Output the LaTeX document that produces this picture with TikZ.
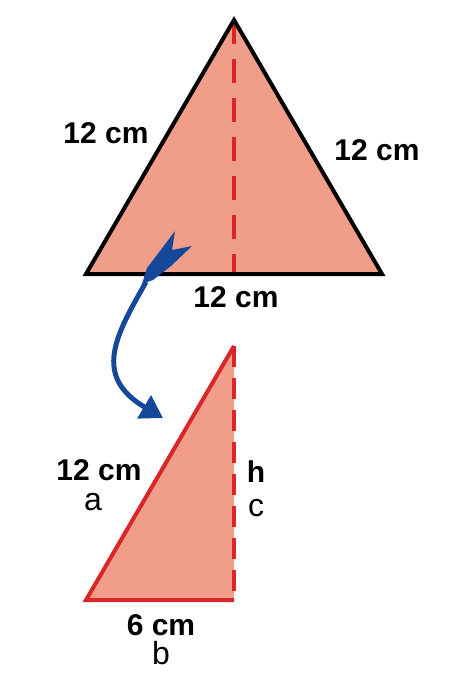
\documentclass[tikz,border=0pt]{standalone}
\usepackage{fontspec}
\setmainfont{Liberation Sans}
\usetikzlibrary{arrows.meta}
\definecolor{salmon}{RGB}{240,158,138}
\definecolor{edgered}{RGB}{218,38,40}
\definecolor{arrowblue}{RGB}{20,72,154}

\begin{document}
\begin{tikzpicture}[x=1pt, y=-1pt,
    measure/.style={font=\fontsize{30}{30}\selectfont\bfseries, inner sep=0pt},
    varname/.style={font=\fontsize{32}{32}\selectfont, inner sep=0pt}]
  \useasboundingbox (0,0) rectangle (474,688);
  % whole triangle
  \coordinate (top) at (234,20);
  \coordinate (bl) at (86,274);
  \coordinate (br) at (382,274);
  \coordinate (mid) at (234,274);
  \fill[salmon] (top) -- (bl) -- (br) -- cycle;
  \draw[edgered, line width=4.5pt, dash pattern=on 24pt off 15pt] (top) -- (mid);
  \draw[line width=4pt, line join=miter] (top) -- (bl) -- (br) -- cycle;
  \node[measure] (left) at (106,133) {12 cm};
  \node[measure] (right) at (377,150) {12 cm};
  \node[measure] (base) at (236,297) {12 cm};
  % half triangle
  \coordinate (stop) at (234,346);
  \coordinate (sbl) at (86,600);
  \coordinate (sbr) at (234,600);
  \fill[salmon] (stop) -- (sbl) -- (sbr) -- cycle;
  \draw[edgered, line width=4.5pt, dash pattern=on 21pt off 11pt] (stop) -- (sbr);
  \draw[edgered, line width=4pt, line join=miter] (stop) -- (sbl) -- (sbr);
  \node[measure] (hyp) at (99,470) {12 cm};
  \node[varname] (a) at (93,502) {a};
  \node[measure] (h) at (256,472) {h};
  \node[varname] (c) at (256,508) {c};
  \node[measure] (half) at (161,625) {6 cm};
  \node[varname] (b) at (161,653) {b};
  % arrow
  \coordinate (tail) at (146,282);
  \coordinate (tip) at (163,418);
  \fill[arrowblue] (142,284) -- (147,268) -- (160,251) -- (175,231) -- (172,250)
    -- (192,246) -- (171,266) -- (153,280) -- cycle;
  \draw[arrowblue, line width=5pt, -{Triangle[length=22pt, width=26pt]}]
    (tail) .. controls (116,335) and (92,376) .. (tip);
\end{tikzpicture}
\end{document}
